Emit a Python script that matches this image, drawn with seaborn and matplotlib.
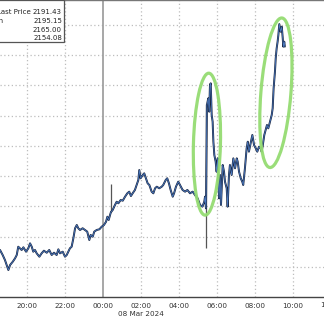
import matplotlib
matplotlib.use("Agg")
import matplotlib.pyplot as plt
import seaborn as sns
import pandas as pd
from matplotlib.patches import Ellipse, Rectangle
from matplotlib.transforms import ScaledTranslation
from matplotlib.ticker import MultipleLocator

# hours relative to 00:00, 08 Mar 2024
hours = [-5.42, -5.28, -5.16, -5.04, -4.98, -4.89, -4.75, -4.63, -4.54, -4.46,
         -4.37, -4.28, -4.19, -4.05, -3.93, -3.84, -3.75, -3.67, -3.58, -3.49,
         -3.35, -3.23, -3.11, -2.96, -2.83, -2.70, -2.58, -2.44, -2.35, -2.26,
         -2.12, -2.00, -1.91, -1.74, -1.65, -1.56, -1.47, -1.38, -1.30, -1.21,
         -1.07, -0.95, -0.83, -0.72, -0.65, -0.54, -0.46, -0.33, -0.19, -0.07,
         0.05, 0.16, 0.23, 0.30, 0.37, 0.42, 0.51, 0.63, 0.72, 0.81,
         0.93, 1.04, 1.16, 1.28, 1.38, 1.47, 1.56, 1.68, 1.77, 1.86,
         1.91, 1.98, 2.09, 2.17, 2.26, 2.35, 2.44, 2.56, 2.65, 2.74,
         2.83, 2.96, 3.09, 3.17, 3.30, 3.38, 3.47, 3.56, 3.67, 3.74,
         3.84, 3.96, 4.05, 4.19, 4.32, 4.44, 4.58, 4.72, 4.84, 4.98,
         5.11, 5.23, 5.33, 5.37, 5.42, 5.47, 5.54, 5.59, 5.63, 5.67,
         5.72, 5.77, 5.81, 5.86, 5.93, 5.98, 6.04, 6.07, 6.11, 6.16,
         6.21, 6.25, 6.30, 6.37, 6.42, 6.51, 6.56, 6.63, 6.68, 6.77,
         6.86, 6.95, 7.04, 7.09, 7.16, 7.25, 7.33, 7.38, 7.47, 7.56,
         7.62, 7.68, 7.79, 7.86, 7.95, 8.04, 8.12, 8.21, 8.30, 8.35,
         8.41, 8.49, 8.56, 8.63, 8.70, 8.79, 8.88, 8.93, 8.98, 9.05,
         9.09, 9.14, 9.19, 9.23, 9.28, 9.35, 9.41, 9.46, 9.49, 9.54,
         9.57]
prices = [2157.81, 2156.98, 2156.15, 2155.05, 2154.50, 2155.33, 2155.87, 2156.43, 2156.98, 2158.35,
          2158.09, 2157.81, 2158.25, 2157.53, 2158.09, 2158.91, 2158.35, 2157.53, 2157.81, 2157.26,
          2156.70, 2157.26, 2157.69, 2157.36, 2157.81, 2156.98, 2157.36, 2156.98, 2157.92, 2157.26,
          2157.53, 2156.70, 2156.98, 2158.09, 2158.35, 2159.74, 2161.40, 2161.94, 2161.40, 2161.12,
          2161.40, 2161.12, 2160.84, 2159.46, 2160.29, 2160.01, 2160.84, 2161.12, 2161.23, 2161.66,
          2161.94, 2162.48, 2163.31, 2162.77, 2163.59, 2164.09, 2164.42, 2165.25, 2165.79, 2165.53,
          2166.07, 2165.96, 2166.62, 2167.18, 2167.45, 2166.73, 2167.18, 2167.73, 2168.55, 2169.38,
          2171.03, 2169.66, 2170.20, 2170.48, 2169.66, 2168.83, 2168.55, 2167.45, 2167.18, 2168.01,
          2168.27, 2168.01, 2168.27, 2168.55, 2169.38, 2169.66, 2168.83, 2167.73, 2166.62, 2167.18,
          2168.27, 2169.10, 2168.55, 2167.73, 2167.45, 2167.73, 2167.18, 2167.45, 2166.90, 2166.35,
          2165.25, 2164.97, 2165.79, 2166.62, 2164.70, 2181.77, 2182.88, 2180.67, 2185.08, 2185.36,
          2180.12, 2179.01, 2175.71, 2173.51, 2172.40, 2170.75, 2172.96, 2169.10, 2166.35, 2170.20,
          2165.25, 2168.01, 2171.86, 2170.75, 2169.10, 2168.01, 2164.97, 2170.20, 2171.86, 2170.20,
          2172.96, 2171.31, 2172.96, 2172.40, 2170.75, 2169.66, 2169.10, 2168.55, 2171.31, 2174.62,
          2175.71, 2174.06, 2175.71, 2176.82, 2175.16, 2174.62, 2174.06, 2174.88, 2174.62, 2174.06,
          2175.16, 2176.82, 2177.64, 2178.47, 2177.92, 2179.01, 2180.12, 2181.23, 2184.54, 2187.28,
          2189.49, 2191.15, 2192.24, 2193.34, 2195.15, 2193.89, 2194.72, 2192.80, 2191.41, 2192.24,
          2191.43]

# spikes (wicks)
wick_hours = [0.42, 5.44]
wick_low = [2164.09, 2158.14]
wick_high = [2168.72, 2182.0]

tick_hours = [-4, -2, 0, 2, 4, 6, 8, 10]
tick_labels = ["20:00", "22:00", "00:00", "02:00", "04:00", "06:00", "08:00", "10:00"]
date_label = "08 Mar 2024"

legend_names = ["Last Price", "High"]
legend_values = ["2191.43", "2195.15", "2165.00", "2154.08"]

# highlight ellipses: center hour, center price, width/height (in), angle
ell_hours = [5.47, 9.10]
ell_prices = [2175.3, 2183.8]
ell_w = [0.27, 0.30]
ell_h = [1.42, 1.50]
ell_angle = [-1.5, -4.6]

df = pd.DataFrame({"hour": hours, "price": prices})

sns.set_style("white")
plt.rcParams["font.family"] = ["DejaVu Sans"]

fig = plt.figure(figsize=(3.24, 3.16), dpi=100)
ax = fig.add_axes([0, 1 - 297 / 316, 1, 297 / 316])
ax.set_xlim((0 - 103) / 19, (324 - 103) / 19)
ax.set_ylim(2150.04, 2199.13)

# grid
for p in range(2155, 2200, 5):
    ax.axhline(p, color="#bdbdbd", lw=0.9, ls=(0, (1, 2)), zorder=0)
for h in tick_hours:
    if h != 0:
        ax.axvline(h, color="#bdbdbd", lw=0.9, ls=(0, (1, 2)), zorder=0)
ax.axvline(0, color="#a0a0a0", lw=1.3, zorder=1)

ax.vlines(wick_hours, wick_low, wick_high, color="#555555", lw=0.9, zorder=2)

sns.lineplot(data=df, x="hour", y="price", ax=ax, color="#16223c", lw=1.4,
             sort=False, estimator=None, zorder=3)
ax.plot(df["hour"], df["price"], color="#4d7cc4", lw=0.55, zorder=4)

for hc, pc, w, hh, a in zip(ell_hours, ell_prices, ell_w, ell_h, ell_angle):
    e = Ellipse((0, 0), w, hh, angle=a, fill=False, edgecolor="#95dc72", lw=2.3,
                alpha=0.95,
                transform=fig.dpi_scale_trans + ScaledTranslation(hc, pc, ax.transData),
                zorder=5)
    ax.add_patch(e)

# axes styling
for s in ["left", "right"]:
    ax.spines[s].set_visible(False)
ax.spines["top"].set_color("#777777")
ax.spines["top"].set_linewidth(1.0)
ax.spines["bottom"].set_color("#444444")
ax.spines["bottom"].set_linewidth(1.0)
ax.set_yticks([])
ax.set_xticks(tick_hours)
ax.set_xticklabels(tick_labels)
ax.xaxis.set_minor_locator(MultipleLocator(1))
ax.tick_params(axis="x", which="major", length=2, width=0.8, color="#444444",
               labelsize=5.2, labelcolor="#333333", pad=2, direction="out")
ax.tick_params(axis="x", which="minor", length=2, width=0.6, color="#666666",
               direction="out")
ax.set_xlabel("")
ax.set_ylabel("")
ax.text(12, -0.018, "12:00", transform=ax.get_xaxis_transform(), ha="center",
        va="top", fontsize=5.2, color="#333333", clip_on=False)
ax.text(2, -0.048, date_label, transform=ax.get_xaxis_transform(), ha="center",
        va="top", fontsize=5.2, color="#333333", clip_on=False)

# legend box (cropped at the left edge)
fig.patches.append(Rectangle((-10 / 324, 1 - 42 / 316), 74 / 324, 42 / 316,
                             transform=fig.transFigure, facecolor="white",
                             edgecolor="#555555", lw=0.9, zorder=10))
name_x = [31, 3]
rows_y = [12, 21, 29.5, 38]
for nm, nx, ry in zip(legend_names, name_x, rows_y):
    fig.text(nx / 324, 1 - ry / 316, nm, ha="right", va="center", fontsize=5,
             color="#222222", zorder=11)
for val, ry in zip(legend_values, rows_y):
    fig.text(62 / 324, 1 - ry / 316, val, ha="right", va="center", fontsize=5,
             color="#222222", zorder=11)

fig.savefig("out.png", dpi=100)
